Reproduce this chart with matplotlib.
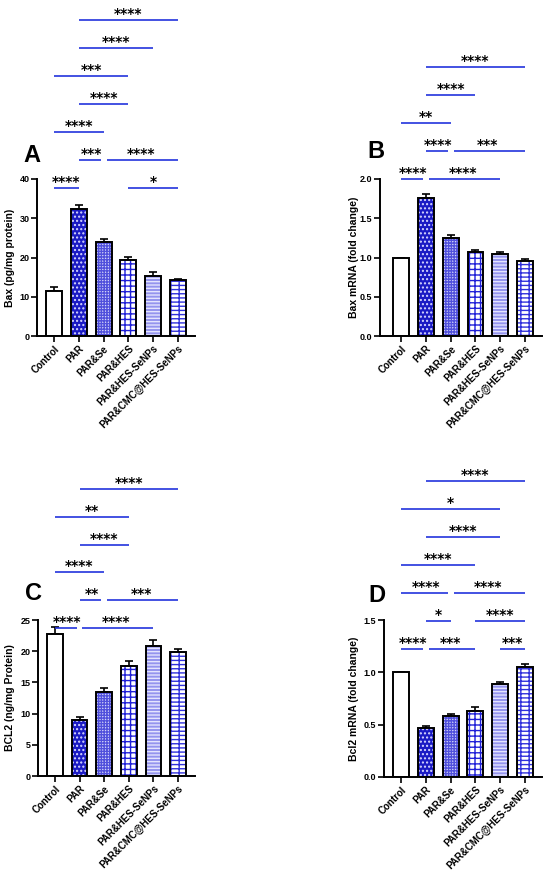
import matplotlib
matplotlib.use("Agg")
import matplotlib.pyplot as plt
import numpy as np

plt.rcParams['font.family'] = ['Liberation Sans', 'DejaVu Sans']
plt.rcParams['font.weight'] = 'bold'
plt.rcParams['hatch.linewidth'] = 1.0

# ---------------- data ----------------
groups = ["Control", "PAR", "PAR&Se", "PAR&HES", "PAR&HES-SeNPs", "PAR&CMC@HES-SeNPs"]

bax_protein = [11.5, 32.3, 24.0, 19.3, 15.3, 14.2]
bax_protein_err = [1.0, 1.2, 0.6, 0.9, 0.9, 0.4]

bax_mrna = [1.00, 1.76, 1.25, 1.07, 1.05, 0.95]
bax_mrna_err = [0.0, 0.05, 0.04, 0.03, 0.025, 0.03]

bcl2_protein = [22.8, 9.0, 13.4, 17.6, 20.9, 19.8]
bcl2_protein_err = [1.0, 0.4, 0.7, 0.8, 0.9, 0.6]

bcl2_mrna = [1.00, 0.47, 0.58, 0.63, 0.89, 1.05]
bcl2_mrna_err = [0.0, 0.02, 0.025, 0.035, 0.02, 0.03]

# significance comparisons: (group i, group j, stars, tier)
sig_A = [(0, 1, "****", 0), (3, 5, "*", 0), (1, 2, "***", 1), (2, 5, "****", 1),
         (0, 2, "****", 2), (1, 3, "****", 3), (0, 3, "***", 4), (1, 4, "****", 5),
         (1, 5, "****", 6)]
sig_B = [(0, 1, "****", 0), (1, 4, "****", 0), (1, 2, "****", 1), (2, 5, "***", 1),
         (0, 2, "**", 2), (1, 3, "****", 3), (1, 5, "****", 4)]
sig_C = [(0, 1, "****", 0), (1, 4, "****", 0), (1, 2, "**", 1), (2, 5, "***", 1),
         (0, 2, "****", 2), (1, 3, "****", 3), (0, 3, "**", 4), (1, 5, "****", 5)]
sig_D = [(0, 1, "****", 0), (1, 3, "***", 0), (4, 5, "***", 0), (1, 2, "*", 1),
         (3, 5, "****", 1), (0, 2, "****", 2), (2, 5, "****", 2), (0, 3, "****", 3),
         (1, 4, "****", 4), (0, 4, "*", 5), (1, 5, "****", 6)]

# ---------------- styles ----------------
BLUE = '#2233dd'
bar_styles = [
    dict(face='white', hatch=None, hcol='white'),
    dict(face='#1a1ac4', hatch='....', hcol='#d8d8ff'),
    dict(face='#d4d4f8', hatch='++++++', hcol='#5050dc'),
    dict(face='white', hatch='+++', hcol='#2020d8'),
    dict(face='#9494ee', hatch='-----', hcol='#e4e4ff'),
    dict(face='white', hatch='----||', hcol='#3030dc'),
]

fig = plt.figure(figsize=(5.5, 8.81), dpi=100)
W, H = 550.0, 881.0


def make_ax(left, right, top, bottom):
    return fig.add_axes([left / W, 1 - bottom / H, (right - left) / W, (bottom - top) / H])


def draw_panel(ax, vals, errs, ymax, ystep, ylabel, yfmt, sig, base, letter,
               letter_xy, xlim_left, label_x):
    x = np.arange(len(groups))
    for k, (v, st) in enumerate(zip(vals, bar_styles)):
        ax.bar(x[k], v, width=0.64, color=st['face'], edgecolor=st['hcol'],
               hatch=st['hatch'], linewidth=0, zorder=2)
    ax.bar(x, vals, width=0.64, fill=False, edgecolor='black', linewidth=1.4, zorder=3)
    ax.errorbar(x, vals, yerr=[np.zeros(len(vals)), errs], fmt='none', ecolor='black',
                elinewidth=1.2, capsize=3.2, capthick=1.2, zorder=1)
    ax.set_xlim(xlim_left, len(groups) - 1 + 0.685)
    ax.set_ylim(0, ymax)
    ticks = np.arange(0, ymax + ystep / 2, ystep)
    ax.set_yticks(ticks)
    ax.set_yticklabels([yfmt.format(t) for t in ticks], fontsize=6.5, fontweight='bold')
    ax.set_xticks(x)
    ax.set_xticklabels(groups, rotation=45, ha='right', rotation_mode='anchor',
                       fontsize=7, fontweight='bold')
    for s in ['top', 'right']:
        ax.spines[s].set_visible(False)
    for s in ['left', 'bottom']:
        ax.spines[s].set_linewidth(1.4)
    ax.tick_params(axis='both', direction='out', length=4, width=1.2, pad=1.5)
    ax.set_ylabel(ylabel, fontsize=7.5, fontweight='bold')
    ax.yaxis.set_label_coords(label_x, 0.5)

    step = ymax * 28.0 / 157.0
    for (i, j, stars, tier) in sig:
        y = base + tier * step
        x0, x1 = float(i), float(j)
        for (a, b, _, t2) in sig:
            if t2 != tier or (a, b) == (i, j):
                continue
            if b == i:
                x0 += 0.12
            if a == j:
                x1 -= 0.12
        ax.plot([x0, x1], [y, y], color=BLUE, linewidth=1.2, clip_on=False,
                solid_capstyle='butt', zorder=4)
        ax.annotate(stars, xy=((i + j) / 2.0, y), xytext=(0, 1.5),
                    textcoords='offset points', ha='center', va='baseline',
                    fontsize=10, fontweight='bold', family='DejaVu Sans',
                    annotation_clip=False)
    fig.text(letter_xy[0] / W, 1 - letter_xy[1] / H, letter, fontsize=17,
             fontweight='bold', ha='center', va='center')


axA = make_ax(37, 195, 179, 336)
draw_panel(axA, bax_protein, bax_protein_err, 40, 10, "Bax (pg/mg protein)", "{:.0f}",
           sig_A, 37.7, "A", (32, 155), -0.685, -0.14)

axB = make_ax(380, 542, 179, 336)
draw_panel(axB, bax_mrna, bax_mrna_err, 2.0, 0.5, "Bax mRNA (fold change)", "{:.1f}",
           sig_B, 2.0, "B", (376, 152), -0.85, -0.13)

axC = make_ax(38, 195, 620, 776)
draw_panel(axC, bcl2_protein, bcl2_protein_err, 25, 5, "BCL2 (ng/mg Protein)", "{:.0f}",
           sig_C, 23.7, "C", (33, 593), -0.685, -0.146)

axD = make_ax(384, 542, 620, 777)
draw_panel(axD, bcl2_mrna, bcl2_mrna_err, 1.5, 0.5, "Bcl2 mRNA (fold change)", "{:.1f}",
           sig_D, 1.223, "D", (377, 596), -0.685, -0.158)

fig.savefig("out.png", dpi=100)
